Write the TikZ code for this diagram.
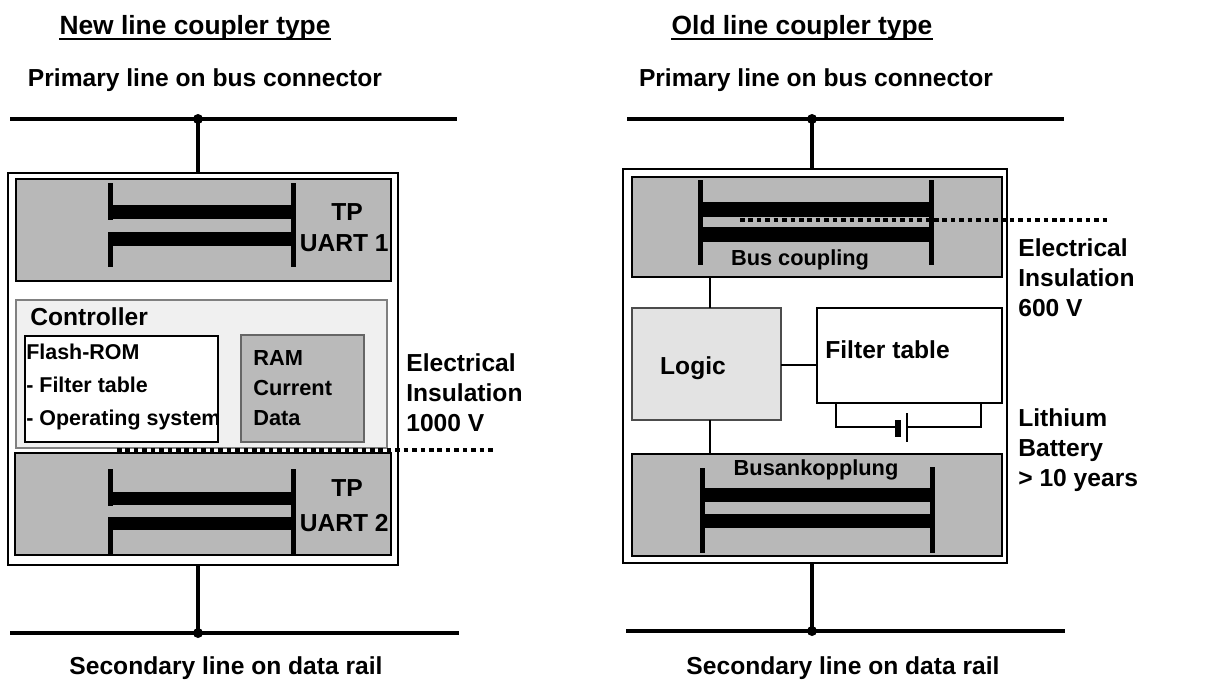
\documentclass[tikz,border=0pt]{standalone}
\usepackage{fontspec}
\setmainfont{Liberation Sans}
\usetikzlibrary{calc}
\definecolor{tpgray}{gray}{0.72}
\definecolor{ctrlgray}{gray}{0.94}
\definecolor{logicgray}{gray}{0.89}
\definecolor{ramgray}{gray}{0.73}
\newcommand{\pxu}{0.02cm}
\tikzset{
  lbl/.style={font=\bfseries\fontsize{14}{17}\selectfont,inner sep=0pt,align=left},
  lbltight/.style={lbl,font=\bfseries\fontsize{12.4}{17}\selectfont},
  ttl/.style={font=\bfseries\fontsize{15}{18}\selectfont,inner sep=0pt},
  blk/.style={draw,inner sep=0pt,outer sep=0pt,anchor=north west},
  bus/.style={line width=2.8pt},
  stub/.style={line width=2.2pt},
  wire/.style={line width=0.9pt},
  insul/.style={line width=2.8pt,dash pattern=on 2.6pt off 2.2pt},
  plate/.style={fill=black}
}
\begin{document}
\begin{tikzpicture}[x=0.02cm,y=-0.02cm]
\useasboundingbox (0,0) rectangle (1217,681);
% ---- new line coupler ----
\node[ttl] (ttlA) at (195,28) {New line coupler type};
\draw[line width=1.5pt] ($(ttlA.base west)+(0,4)$) -- ($(ttlA.base east)+(0,4)$);
\node[lbl] (primA) at (205,80) {Primary line on bus connector};
\coordinate (pAl) at (10,119);
\coordinate (pAr) at (457,119);
\coordinate (pA) at (198,119);
\draw[bus] (pAl) -- (pAr);
\fill (pA) circle (5);
\node[blk,line width=1.1pt,minimum width=390*\pxu,minimum height=392*\pxu] (outerA) at (8,173) {};
\draw[stub] (pA) -- (pA |- outerA.north);
\node[blk,fill=tpgray,line width=0.8pt,minimum width=375*\pxu,minimum height=102*\pxu] (uartA) at (16,179) {};
\node[blk,fill=ctrlgray,draw=gray,line width=0.6pt,minimum width=371*\pxu,minimum height=148*\pxu] (ctrl) at (16,300) {};
\node[blk,fill=white,line width=0.7pt,minimum width=193*\pxu,minimum height=106*\pxu] (flash) at (25,336) {};
\node[blk,fill=ramgray,draw=gray!80!black,line width=0.7pt,minimum width=123*\pxu,minimum height=107*\pxu] (ram) at (241,335) {};
\node[blk,fill=tpgray,line width=0.8pt,minimum width=376*\pxu,minimum height=102*\pxu] (uartB) at (15,453) {};
% capacitor plates
\fill[plate] (108,183) rectangle (113,220);
\fill[plate] (108,232) rectangle (113,267);
\fill[plate] (291,183) rectangle (296,267);
\fill[plate] (110,205) rectangle (293,219);
\fill[plate] (110,232) rectangle (293,246);
\fill[plate] (108,469) rectangle (113,506);
\fill[plate] (108,517) rectangle (113,555);
\fill[plate] (291,469) rectangle (296,555);
\fill[plate] (110,492) rectangle (293,505);
\fill[plate] (110,517) rectangle (293,530);
\node[lbl] (tpA) at (347,212) {TP};
\node[lbl,anchor=east] (uartAtxt) at (389,243) {UART 1};
\node[lbl] (tpB) at (347,488) {TP};
\node[lbl,anchor=east] (uartBtxt) at (389,523) {UART 2};
\node[lbl,anchor=west] (ctrltxt) at (30,317) {Controller};
\node[lbltight,anchor=west,font=\bfseries\fontsize{12.2}{19}\selectfont] (flashtxt) at (26,387) {Flash-ROM\\- Filter table\\- Operating system};
\node[lbltight,anchor=west] (ramtxt) at (253,388) {RAM\\Current\\Data};
\node[lbl,anchor=west] (insA) at (406,393) {Electrical\\Insulation\\1000 V};
\coordinate (dA1) at (117,450);
\coordinate (dA2) at (493,450);
\draw[insul] (dA1) -- (dA2);
\coordinate (qA) at (198,633);
\draw[stub] (qA |- outerA.south) -- (qA);
\draw[bus] (10,633) coordinate (qAl) -- (459,633) coordinate (qAr);
\fill (qA) circle (5);
\node[lbl] (secA) at (226,668) {Secondary line on data rail};
% ---- old line coupler ----
\node[ttl] (ttlB) at (802,28) {Old line coupler type};
\draw[line width=1.5pt] ($(ttlB.base west)+(0,4)$) -- ($(ttlB.base east)+(0,4)$);
\node[lbl] (primB) at (816,80) {Primary line on bus connector};
\coordinate (pBl) at (627,119);
\coordinate (pBr) at (1064,119);
\coordinate (pB) at (812,119);
\draw[bus] (pBl) -- (pBr);
\fill (pB) circle (5);
\node[blk,line width=1.1pt,minimum width=384*\pxu,minimum height=394*\pxu] (outerB) at (623,169) {};
\draw[stub] (pB) -- (pB |- outerB.north);
\node[blk,fill=tpgray,line width=0.8pt,minimum width=370*\pxu,minimum height=100*\pxu] (bcoup) at (632,177) {};
\node[blk,fill=logicgray,draw=gray!60!black,line width=0.7pt,minimum width=149*\pxu,minimum height=112*\pxu] (logic) at (632,308) {};
\node[blk,fill=white,line width=0.7pt,minimum width=185*\pxu,minimum height=95*\pxu] (filt) at (817,308) {};
\node[blk,fill=tpgray,line width=0.8pt,minimum width=370*\pxu,minimum height=102*\pxu] (bank) at (632,454) {};
\draw[wire] (bcoup.south -| 710,0) -- (logic.north -| 710,0);
\draw[wire] (logic.south -| 710,0) -- (bank.north -| 710,0);
\draw[wire] (logic.east |- 0,365) -- (filt.west |- 0,365);
% capacitor plates
\fill[plate] (698,180) rectangle (703,265);
\fill[plate] (929,180) rectangle (934,265);
\fill[plate] (700,202) rectangle (931,217);
\fill[plate] (700,227) rectangle (931,242);
\fill[plate] (700,468) rectangle (705,553);
\fill[plate] (930,467) rectangle (935,553);
\fill[plate] (702,488) rectangle (932,502);
\fill[plate] (702,514) rectangle (932,528);
\coordinate (dB1) at (740,220);
\coordinate (dB2) at (1108,220);
\draw[insul] (dB1) -- (dB2);
\node[lbltight] (bcouptxt) at (800,260) {Bus coupling};
\node[lbltight] (banktxt) at (816,470) {Busankopplung};
\node[lbl] (logictxt) at (693,368) {Logic};
\node[lbl,anchor=west] (filttxt) at (825,350) {Filter table};
% battery
\coordinate (batA) at (filt.south -| 836,0);
\coordinate (batB) at (filt.south -| 981,0);
\draw[wire] (batA) |- (895,427);
\fill[plate] (895,420) rectangle (901,437);
\draw[line width=0.8pt] (907,413) -- (907,442);
\draw[wire] (907,427) -| (batB);
\node[lbl,anchor=west] (insB) at (1018,278) {Electrical\\Insulation\\600 V};
\node[lbl,anchor=west] (lith) at (1018,450) {Lithium\\Battery\\> 10 years};
\coordinate (qB) at (812,631);
\draw[stub] (qB |- outerB.south) -- (qB);
\draw[bus] (626,631) coordinate (qBl) -- (1065,631) coordinate (qBr);
\fill (qB) circle (5);
\node[lbl] (secB) at (843,668) {Secondary line on data rail};
\end{tikzpicture}
\end{document}
